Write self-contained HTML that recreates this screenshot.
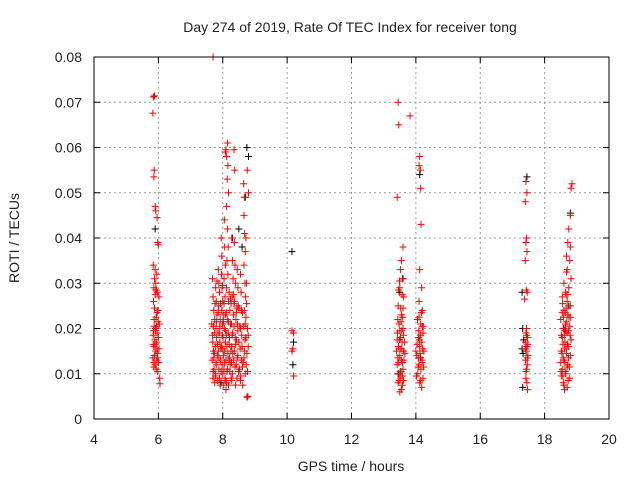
<!DOCTYPE html>
<html><head><meta charset="utf-8"><style>
body{margin:0;background:#fff}
svg text{font-family:"Liberation Sans",sans-serif;fill:#222}
</style></head><body>
<svg id="chart" width="640" height="480" viewBox="0 0 640 480" xmlns="http://www.w3.org/2000/svg">
<rect width="640" height="480" fill="#fff"/>
<text x="350" y="32" font-size="14" text-anchor="middle">Day 274 of 2019, Rate Of TEC Index for receiver tong</text>
<text transform="translate(19,238) rotate(-90)" font-size="14" text-anchor="middle">ROTI / TECUs</text>
<text x="351" y="471" font-size="14" text-anchor="middle">GPS time / hours</text>
<g id="grid"></g><g id="marks"></g><g id="axes"></g>
</svg>
<script>
const xTicks=[4,6,8,10,12,14,16,18,20];
const yTicks=[0,0.01,0.02,0.03,0.04,0.05,0.06,0.07,0.08];
const yTickLabels=["0","0.01","0.02","0.03","0.04","0.05","0.06","0.07","0.08"];
const redPts=[5.85,.0712,5.88,.0714,5.83,.0676,5.87,.055,5.86,.0535,5.9,.047,5.92,.046,5.96,.0445,5.98,.039,6.0,.0385,5.84,.034,5.9,.033,5.95,.032,5.88,.031,5.92,.030,5.86,.029,5.94,.0285,5.97,.028,5.9,.0275,6.02,.027,5.85,.026,5.99,.024,5.93,.0225,5.87,.022,6.03,.021,5.91,.020,5.96,.019,5.84,.0185,6.0,.018,5.89,.0175,5.94,.017,5.86,.016,6.02,.0155,5.92,.015,5.97,.0145,5.88,.014,5.83,.0135,5.95,.013,6.0,.0125,5.9,.012,5.86,.0115,5.93,.011,5.98,.0105,6.04,.009,6.05,.0078,5.91,.0195,5.87,.0205,5.99,.0215,5.84,.0165,5.96,.0235,
7.7,.08,7.68,.031,7.7,.027,7.72,.024,7.66,.021,7.74,.019,7.69,.017,7.71,.015,7.67,.013,7.73,.011,7.7,.009,7.75,.008,7.78,.029,7.8,.026,7.82,.023,7.79,.020,7.81,.018,7.77,.016,7.83,.014,7.8,.012,7.78,.010,7.84,.0085,7.86,.033,7.88,.030,7.9,.028,7.87,.025,7.92,.022,7.89,.019,7.91,.017,7.86,.015,7.93,.013,7.88,.011,7.9,.009,7.95,.040,7.97,.036,7.96,.032,7.98,.029,8.0,.026,7.97,.024,7.99,.021,8.01,.018,7.96,.016,8.02,.014,7.98,.012,8.0,.010,8.03,.0075,8.05,.044,8.06,.038,8.08,.034,8.04,.031,8.07,.027,8.09,.023,8.05,.020,8.08,.017,8.06,.015,8.1,.013,8.04,.011,8.07,.009,8.1,.0065,8.08,.059,8.1,.0595,8.12,.058,8.15,.061,8.16,.056,8.14,.053,8.18,.05,8.12,.047,8.15,.042,8.17,.038,8.13,.035,8.16,.032,8.12,.029,8.18,.026,8.14,.022,8.17,.019,8.13,.016,8.19,.013,8.15,.011,8.12,.008,8.2,.028,8.22,.024,8.24,.021,8.21,.018,8.25,.015,8.23,.012,8.26,.009,8.28,.040,8.3,.035,8.32,.031,8.29,.027,8.33,.023,8.31,.019,8.28,.016,8.34,.013,8.3,.010,8.36,.039,8.38,.034,8.4,.030,8.37,.026,8.41,.022,8.39,.018,8.36,.015,8.42,.012,8.44,.009,8.35,.0595,8.37,.055,8.45,.033,8.47,.029,8.48,.025,8.46,.021,8.5,.017,8.47,.014,8.52,.011,8.55,.032,8.57,.028,8.58,.024,8.56,.020,8.6,.016,8.58,.013,8.62,.0075,8.65,.052,8.67,.049,8.66,.045,8.68,.041,8.7,.037,8.66,.034,8.69,.030,8.71,.027,8.67,.024,8.7,.021,8.72,.018,8.68,.015,8.73,.012,8.7,.010,8.75,.0048,8.78,.005,8.8,.05,8.76,.055,8.74,.03,8.77,.02,8.79,.016,8.72,.04,7.75,.022,7.85,.019,7.94,.0155,8.03,.023,8.11,.0185,8.21,.0135,8.27,.021,8.35,.0255,8.43,.0175,8.53,.0205,8.61,.0235,8.74,.0255,7.72,.0135,7.82,.0305,8.0,.0295,8.26,.0255,8.44,.0245,8.63,.0125,
7.68,.0185,7.71,.0205,7.74,.0145,7.76,.0255,7.79,.0125,7.81,.0215,7.84,.0165,7.86,.0235,7.88,.0135,7.91,.0205,7.93,.0255,7.95,.0105,7.98,.0185,8.0,.0155,8.02,.0215,8.04,.0255,8.06,.0125,8.09,.0195,8.11,.0235,8.13,.0105,8.16,.0145,8.18,.0215,8.2,.0165,8.22,.0105,8.24,.0265,8.27,.0125,8.29,.0185,8.31,.0145,8.33,.0275,8.35,.0205,8.38,.0115,8.4,.0165,8.42,.0235,8.45,.0135,8.47,.0195,8.49,.0105,8.51,.0245,8.54,.0155,8.56,.0095,8.59,.0185,8.61,.0115,8.64,.0205,8.66,.0135,8.69,.0175,8.72,.0225,8.75,.0145,8.77,.0105,8.79,.0185,7.7,.0105,7.77,.0095,7.92,.0075,8.08,.0085,8.18,.0075,8.28,.0085,8.4,.0075,8.55,.0085,
5.86,.0125,5.9,.0165,5.94,.0205,5.88,.0245,5.92,.0285,5.96,.0155,5.85,.0195,5.98,.0135,
10.15,.0195,10.2,.019,10.18,.0155,10.15,.015,10.2,.0095,
13.45,.07,13.47,.065,13.42,.049,13.6,.038,13.55,.035,13.52,.033,13.58,.031,13.5,.029,13.62,.027,13.45,.025,13.55,.023,13.48,.021,13.6,.020,13.43,.019,13.52,.018,13.57,.017,13.46,.016,13.62,.015,13.5,.014,13.55,.013,13.42,.012,13.6,.011,13.48,.010,13.53,.009,13.45,.008,13.58,.0075,13.5,.006,13.65,.017,13.63,.013,13.44,.022,13.56,.0195,13.51,.0155,13.59,.0225,13.47,.0125,13.54,.0105,13.61,.0085,13.4,.015,13.57,.0275,13.53,.0245,13.49,.0175,13.82,.067,
13.44,.0135,13.5,.0195,13.56,.0155,13.6,.0245,13.46,.0285,13.52,.0105,13.58,.0125,13.48,.0085,13.54,.0215,13.62,.0185,13.42,.0175,13.66,.0145,13.49,.0305,13.55,.0065,13.59,.0095,
14.12,.058,14.1,.056,14.14,.055,14.15,.051,14.16,.043,14.12,.033,14.18,.029,14.1,.026,14.2,.024,14.05,.022,14.15,.021,14.22,.019,14.08,.018,14.18,.017,14.12,.016,14.25,.015,14.03,.014,14.2,.013,14.1,.012,14.16,.011,14.06,.010,14.22,.009,14.12,.008,14.18,.007,14.0,.015,14.08,.0135,14.14,.0185,14.24,.0115,14.02,.0095,14.2,.0205,14.1,.0225,
14.04,.0165,14.09,.0195,14.13,.0145,14.17,.0235,14.21,.0155,14.07,.0115,14.15,.0085,14.19,.0125,14.11,.0175,14.23,.0205,
17.42,.0525,17.45,.05,17.4,.048,17.44,.04,17.42,.039,17.45,.037,17.4,.035,17.43,.0285,17.46,.028,17.38,.0265,17.44,.02,17.42,.019,17.47,.018,17.4,.017,17.45,.016,17.43,.015,17.48,.014,17.41,.013,17.46,.012,17.44,.011,17.42,.009,17.45,.008,17.47,.0065,
17.4,.0155,17.44,.0185,17.46,.0135,17.42,.0105,17.48,.0165,
18.85,.052,18.82,.051,18.8,.045,18.75,.042,18.72,.039,18.8,.038,18.68,.036,18.78,.035,18.7,.033,18.82,.031,18.6,.03,18.75,.029,18.65,.028,18.55,.027,18.7,.026,18.8,.025,18.6,.024,18.72,.023,18.5,.022,18.65,.021,18.78,.0205,18.58,.02,18.7,.019,18.55,.018,18.82,.0175,18.63,.017,18.75,.016,18.52,.015,18.68,.0145,18.8,.014,18.6,.013,18.72,.012,18.55,.011,18.66,.01,18.78,.009,18.58,.008,18.7,.007,18.62,.0065,18.5,.0125,18.57,.0165,18.64,.0235,18.74,.0195,18.53,.0095,18.67,.0155,18.61,.0185,18.77,.0115,18.69,.0215,18.56,.0255,
18.54,.0145,18.59,.0225,18.63,.0125,18.67,.0275,18.71,.0165,18.76,.0225,18.52,.0185,18.57,.0095,18.62,.0155,18.66,.0195,18.7,.0115,18.74,.0135,18.79,.0185,18.55,.0235,18.6,.0075,18.64,.0105,18.69,.0245,18.73,.0085,18.58,.0135,18.63,.0195,18.72,.0275,18.51,.0105,18.81,.0225,18.68,.0325];
const blackPts=[5.9,.042,8.5,.042,8.75,.06,8.8,.058,8.6,.038,8.3,.04,7.95,.008,8.7,.049,10.15,.037,10.18,.012,10.2,.017,13.5,.028,13.6,.031,13.45,.01,14.12,.054,14.15,.0135,17.3,.028,17.32,.02,17.35,.0175,17.3,.0155,17.33,.0145,17.32,.007,17.45,.0535,18.8,.0455,18.75,.025,18.6,.02];
const L=94,R=609,T=57,B=419,NS="http://www.w3.org/2000/svg";
const xs=v=>L+(v-4)/16*(R-L), ys=v=>B-v/0.08*(B-T);
function mk(tag,attrs,parent){const e=document.createElementNS(NS,tag);for(const k in attrs)e.setAttribute(k,attrs[k]);parent.appendChild(e);return e;}
const grid=document.getElementById('grid'),axes=document.getElementById('axes'),marks=document.getElementById('marks');
xTicks.forEach(t=>{const x=xs(t);
 if(t>4&&t<20){const g=mk('line',{x1:x,x2:x,y1:T,y2:B,stroke:'#999','stroke-dasharray':'2,3'},grid);
 
 }
 mk('line',{x1:x,x2:x,y1:B,y2:B-6,stroke:'#000'},axes);mk('line',{x1:x,x2:x,y1:T,y2:T+6,stroke:'#000'},axes);
 const tx=mk('text',{x:x,y:B+25,'font-size':14,'text-anchor':'middle'},axes);tx.textContent=t;
 
 });
yTicks.forEach((t,i)=>{const y=ys(t);
 if(i>0&&i<yTicks.length-1){const g=mk('line',{x1:L,x2:R,y1:y,y2:y,stroke:'#999','stroke-dasharray':'2,3'},grid);
 
 }
 mk('line',{x1:L,x2:L+6,y1:y,y2:y,stroke:'#000'},axes);mk('line',{x1:R,x2:R-6,y1:y,y2:y,stroke:'#000'},axes);
 const tx=mk('text',{x:L-12,y:y+5,'font-size':14,'text-anchor':'end'},axes);tx.textContent=yTickLabels[i];
 
 });
const fr=mk('rect',{x:L,y:T,width:R-L,height:B-T,fill:'none',stroke:'#000','stroke-width':1},axes);


function plus(arr,col,name){let d='';for(let i=0;i<arr.length;i+=2){const x=xs(arr[i]),y=ys(arr[i+1]);d+=`M${x-3.5},${y}h7M${x},${y-3.5}v7`;}
 const p=mk('path',{d:d,stroke:col,'stroke-width':1,fill:'none'},marks);
 
 }
plus(blackPts,'#000','black-series-points');
plus(redPts,'#f00','red-series-points');
</script>
</body></html>
